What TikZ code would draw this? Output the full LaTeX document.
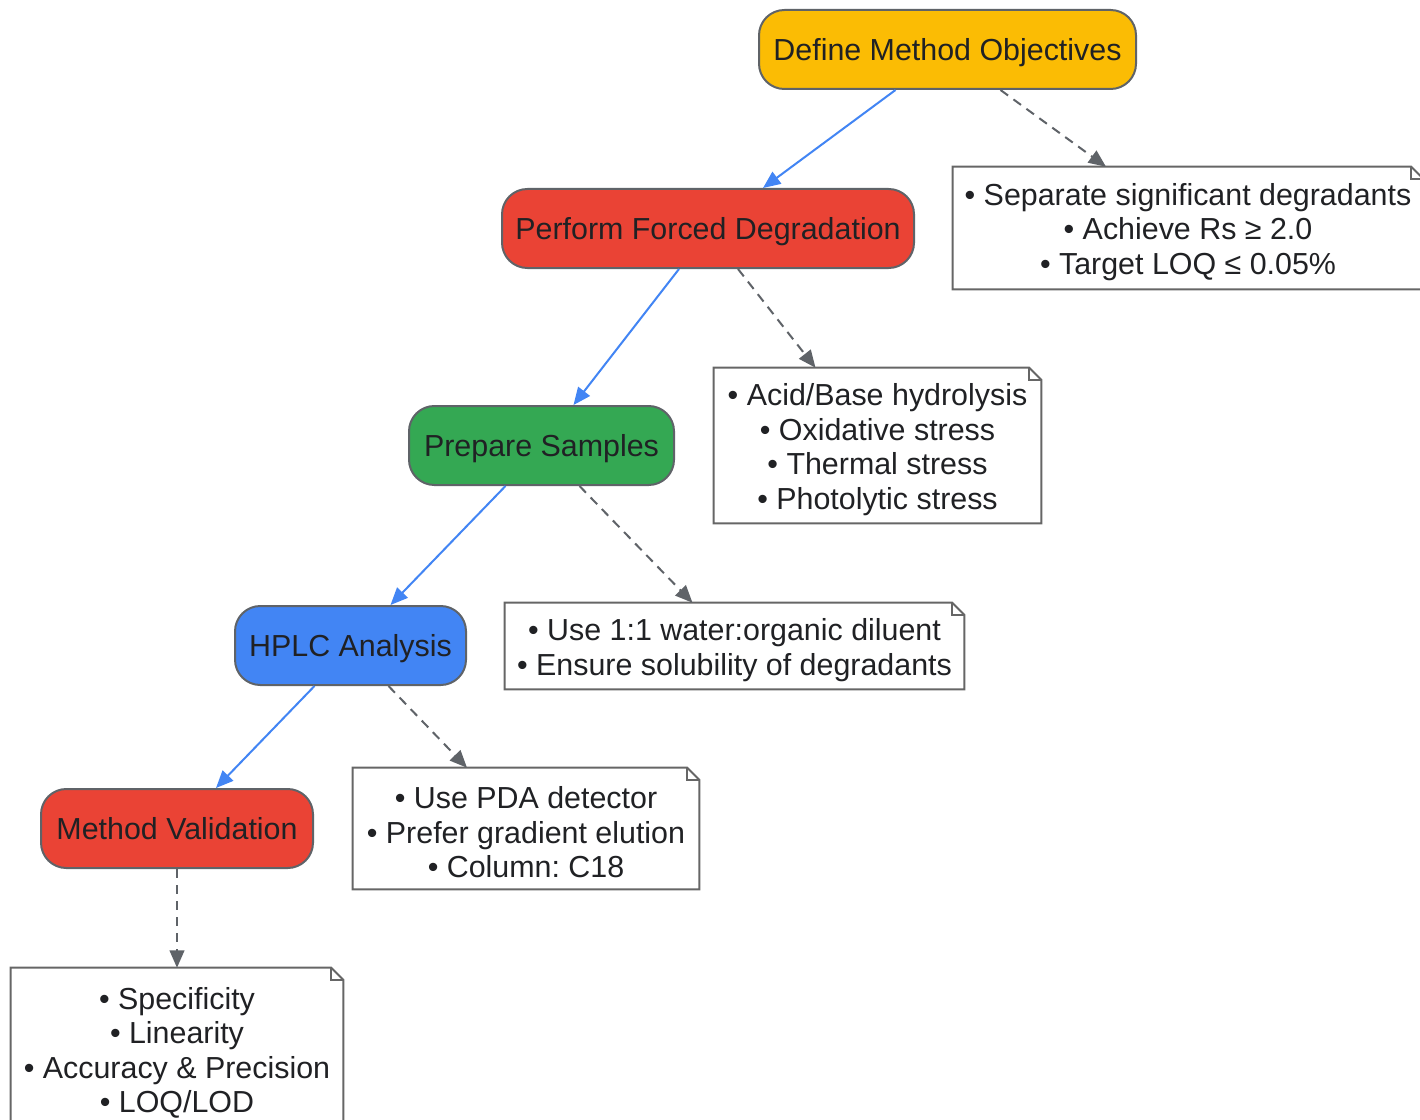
\documentclass[tikz,border=0pt]{standalone}
\usepackage{fontspec}
\setmainfont{Liberation Sans}
\usetikzlibrary{arrows.meta,calc}
\frenchspacing
\definecolor{cyellow}{HTML}{FBBC04}
\definecolor{cred}{HTML}{EA4335}
\definecolor{cgreen}{HTML}{34A853}
\definecolor{cblue}{HTML}{4285F4}
\definecolor{cborder}{HTML}{5F6368}
\definecolor{ctext}{HTML}{202124}
\definecolor{cnote}{HTML}{666666}
\tikzset{
  x=0.75pt, y=-0.75pt,
  stepbox/.style={rectangle, rounded corners=19pt, draw=cborder, line width=1.5pt,
    inner sep=0pt, minimum height=59.25pt, text=ctext, text height=18pt, text depth=1.6pt,
    font=\fontsize{22.8}{26}\selectfont},
  notebox/.style={rectangle, draw=none, inner sep=0pt, align=center, text=ctext,
    font=\fontsize{22.8}{25.9}\selectfont},
  notetext/.style={notebox, yshift=-3pt},
  flow/.style={draw=cblue, line width=1.5pt, -{Triangle[length=13pt,width=11pt]}},
  notelink/.style={draw=cborder, line width=1.5pt, dashed, dash pattern=on 7pt off 5pt,
    -{Triangle[length=13pt,width=11pt]}},
  noteline/.style={draw=cnote, line width=1.5pt, fill=white, line join=miter},
  foldline/.style={draw=cnote, line width=1.2pt}
}
\newcommand{\notebg}[1]{%
  \path[noteline] (#1.north west) -- ($(#1.north east)+(-12,0)$) -- ($(#1.north east)+(0,12)$)
    -- (#1.south east) -- (#1.south west) -- cycle;
  \draw[foldline] ($(#1.north east)+(-12,0)$) -- ($(#1.north east)+(-12,12)$) -- ($(#1.north east)+(0,12)$);
}
\begin{document}
\begin{tikzpicture}
\useasboundingbox (0,0) rectangle (1420,1120);
\fill[white] (0,0) rectangle (1420,1120);

% notes (boxes first, text later)
\node[notebox, minimum width=352.5pt, minimum height=91.5pt] (n1) at (1188,228) {};
\node[notebox, minimum width=245.25pt, minimum height=116.25pt] (n2) at (877.5,445.5) {};
\node[notebox, minimum width=344.25pt, minimum height=64.5pt] (n3) at (734.5,646) {};
\node[notebox, minimum width=259.5pt, minimum height=90.75pt] (n4) at (526,828.5) {};
\node[notebox, minimum width=249pt, minimum height=121.5pt] (n5) at (177,1049) {};
\foreach \n in {n1,n2,n3,n4,n5} {\notebg{\n}}
\node[notetext] (t1) at (n1) {• Separate significant degradants\\• Achieve Rs ≥ 2.0\\• Target LOQ ≤ 0.05\%};
\node[notetext] (t2) at (n2) {• Acid/Base hydrolysis\\• Oxidative stress\\• Thermal stress\\• Photolytic stress};
\node[notetext] (t3) at (n3) {• Use 1:1 water:organic diluent\\• Ensure solubility of degradants};
\node[notetext] (t4) at (n4) {• Use PDA detector\\• Prefer gradient elution\\• Column: C18};
\node[notetext] (t5) at (n5) {• Specificity\\• Linearity\\• Accuracy \& Precision\\• LOQ/LOD};

% steps
\node[stepbox, fill=cyellow, minimum width=282.75pt] (def) at (947.5,49.5) {Define Method Objectives};
\node[stepbox, fill=cred, minimum width=309pt] (per) at (708,228.5) {Perform Forced Degradation};
\node[stepbox, fill=cgreen, minimum width=198.75pt] (pre) at (541.5,445.5) {Prepare Samples};
\node[stepbox, fill=cblue, minimum width=173.25pt] (hplc) at (350.5,645.5) {HPLC Analysis};
\node[stepbox, fill=cred, minimum width=204pt] (mv) at (177,828.5) {Method Validation};

% connectors
\draw[flow] ($(def.south)+(-52,0)$) -- ($(per.north)+(55,0)$);
\draw[notelink] ($(def.south)+(53,0)$) -- ($(n1.north)+(-82,0)$);
\draw[flow] ($(per.south)+(-29,0)$) -- ($(pre.north)+(32,0)$);
\draw[notelink] ($(per.south)+(30,0)$) -- ($(n2.north)+(-62,0)$);
\draw[flow] ($(pre.south)+(-36,0)$) -- ($(hplc.north)+(40,0)$);
\draw[notelink] ($(pre.south)+(38,0)$) -- ($(n3.north)+(-42,0)$);
\draw[flow] ($(hplc.south)+(-36,0)$) -- ($(mv.north)+(39,0)$);
\draw[notelink] ($(hplc.south)+(38,0)$) -- ($(n4.north)+(-59,0)$);
\draw[notelink] (mv.south) -- (n5.north);
\end{tikzpicture}
\end{document}
